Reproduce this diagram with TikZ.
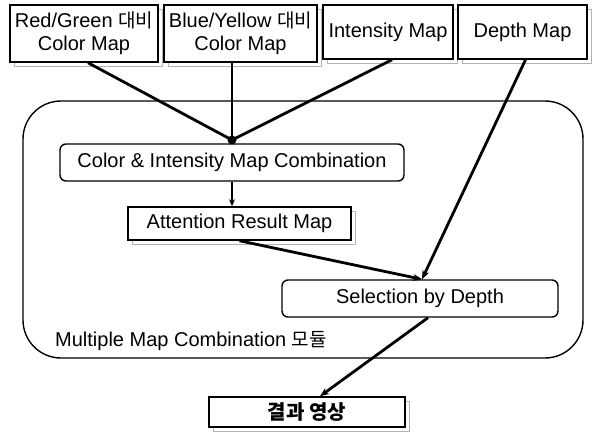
\documentclass[tikz,border=0pt]{standalone}
\usepackage{fontspec}
\setmainfont{Liberation Sans}
\newfontfamily\kr{Noto Sans CJK KR}
\newcommand{\krs}[1]{{\kr\fontsize{19}{20}\selectfont #1}}
\usetikzlibrary{arrows.meta,shadows}
\begin{document}
\begin{tikzpicture}[x=1pt,y=-1pt,
  every node/.style={font=\fontsize{20}{23}\selectfont, inner sep=0pt, align=center},
  mapbox/.style={draw, line width=1.5pt, fill=white,
    drop shadow={shadow xshift=4pt, shadow yshift=-4pt, fill=white, draw=gray!60, line width=0.7pt, opacity=1}},
  procbox/.style={draw, line width=1.4pt, rounded corners=6pt, fill=white},
  modbox/.style={draw, line width=1.4pt, rounded corners=38pt},
  feed/.style={line width=2.8pt},
  flow/.style={line width=2.8pt, -{Stealth[length=9pt,width=7pt]}},
  thinflow/.style={line width=2pt, -{Stealth[length=7pt,width=6pt]}}]
\useasboundingbox (0,0) rectangle (601,439);
\node[modbox, minimum width=560pt, minimum height=257pt] (mod) at (303,229.5) {};
\node[anchor=west] (modlabel) at (55,341) {Multiple Map Combination \krs{모듈}};

\node[mapbox, minimum width=148pt, minimum height=57pt] (b1) at (84,33.5) {Red/Green \krs{대비}\\Color Map};
\node[mapbox, minimum width=153pt, minimum height=57pt] (b2) at (240.5,33.5) {Blue/Yellow \krs{대비}\\Color Map};
\node[mapbox, minimum width=130pt, minimum height=54pt] (b3) at (388,32) {Intensity Map};
\node[mapbox, minimum width=129pt, minimum height=54pt] (b4) at (522.5,32) {Depth Map};

\node[procbox, minimum width=344pt, minimum height=37pt] (col) at (232,162.5) {Color \& Intensity Map Combination};
\node[mapbox, minimum width=223pt, minimum height=33pt] (att) at (239.5,223.5) {Attention Result Map};
\node[procbox, minimum width=276pt, minimum height=37pt] (sel) at (420,298.5) {Selection by Depth};
\node[mapbox, minimum width=196pt, minimum height=30pt] (res) at (307,412) {\kr\bfseries\fontsize{20}{22}\selectfont 결과 영상};

\node[circle, fill, minimum size=9pt] (dot) at (232,140) {};

\draw[feed] ([xshift=4pt]b1.south) -- (dot.center);
\draw[feed] (b2.south -| dot) -- (dot.center);
\draw[feed] ([xshift=4pt]b3.south) -- (dot.center);
\draw[thinflow] (col.south) -- (col.south |- att.north);
\draw[flow] (att.south) -- ([xshift=2pt]sel.north);
\draw[flow] ([xshift=3pt]b4.south) -- ([xshift=2pt]sel.north);
\draw[flow] ([xshift=8pt]sel.south) -- ([xshift=13pt]res.north);
\end{tikzpicture}
\end{document}
